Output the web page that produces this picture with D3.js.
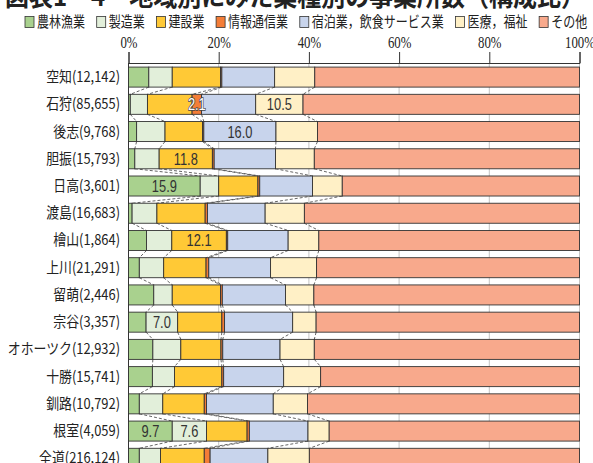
<!DOCTYPE html>
<html>
<head>
<meta charset="utf-8">
<script src="https://cdn.jsdelivr.net/npm/d3@7"></script>
<style>
  body { margin: 0; background: #fff; }
  svg { display: block; }
  text { font-family: "Noto Sans CJK JP", sans-serif; fill: #222; }
</style>
</head>
<body>
<svg id="chart1" width="593" height="463"></svg>
<script>
// regions and number of establishments
let regions = ["空知","石狩","後志","胆振","日高","渡島","檜山","上川","留萌","宗谷","オホーツク","十勝","釧路","根室","全道"];
let counts = ["12,142","85,655","9,768","15,793","3,601","16,683","1,864","21,291","2,446","3,357","12,932","15,741","10,792","4,059","216,124"];
let industries = ["農林漁業","製造業","建設業","情報通信業","宿泊業，飲食サービス業","医療，福祉","その他"];

// shares in %, one array per industry, same order as regions
let agri    = [4.5, 0.4, 1.8, 1.4, 15.9, 0.8, 4.0, 2.4, 5.6, 3.9, 5.4, 5.3, 2.4, 9.7, 2.4];
let manuf   = [5.2, 3.8, 6.3, 5.4, 4.1, 5.5, 5.6, 5.4, 4.1, 7.0, 6.2, 4.9, 5.2, 7.6, 4.7];
let constr  = [10.7, 9.9, 8.3, 11.8, 8.7, 10.7, 12.1, 9.4, 10.7, 9.8, 8.9, 10.5, 9.2, 9.0, 9.7];
let info    = [0.3, 2.1, 0.3, 0.4, 0.4, 0.5, 0.3, 0.6, 0.4, 0.6, 0.4, 0.4, 0.5, 0.5, 1.3];
let hotel   = [11.7, 12.0, 16.0, 13.6, 11.7, 12.8, 13.4, 13.7, 14.0, 15.1, 12.7, 13.3, 14.8, 13.0, 12.8];
let medical = [8.9, 10.5, 9.2, 8.6, 6.6, 8.7, 6.8, 10.2, 6.3, 5.2, 7.6, 8.2, 7.6, 4.7, 9.2];
let other   = [58.7, 61.3, 58.1, 58.8, 52.6, 61.0, 57.8, 58.3, 58.9, 58.4, 58.8, 57.4, 60.3, 55.5, 59.9];

let xTicks = [0, 20, 40, 60, 80, 100];
// cells that carry a value label [region, industry]
let labeled = [["石狩","情報通信業"],["石狩","医療，福祉"],["後志","宿泊業，飲食サービス業"],["胆振","建設業"],
               ["日高","農林漁業"],["檜山","建設業"],["宗谷","製造業"],["根室","農林漁業"],["根室","製造業"]];

let colors = ["#a9d18e","#e2efda","#ffc936","#f47d37","#c8d4ec","#fff0c6","#f8a98c"];
let title = "図表1－4　地域別にみた業種別の事業所数（構成比）";

let margin = { left: 128.5, right: 579.5, top: 63 };
let sx = 0.8; // glyphs in the picture are narrow

let svg = d3.select("#chart1");
let values = [agri, manuf, constr, info, hotel, medical, other];
let rows = regions.map((r, i) => {
  let row = { region: r, count: counts[i] };
  industries.forEach((k, j) => { row[k] = values[j][i]; });
  return row;
});

let xLinear = d3.scaleLinear().domain([0, 100]).range([margin.left, margin.right]);
let yBand = d3.scaleBand().domain(regions)
  .range([margin.top, margin.top + 409.4])
  .paddingInner(0.265).paddingOuter(0.15);
let color = d3.scaleOrdinal().domain(industries).range(colors);
let stack = d3.stack().keys(industries)(rows);

// title (cut at the top edge)
svg.append("text")
  .attr("x", 5).attr("y", 6)
  .attr("textLength", 580).attr("lengthAdjust", "spacingAndGlyphs")
  .style("font-size", "26px").style("font-weight", "bold")
  .text(title);

// legend
let lx = 25;
industries.forEach((k) => {
  let g = svg.append("g").attr("transform", "translate(" + lx + ",0)");
  g.append("rect").attr("x", 0).attr("y", 16.5).attr("width", 9).attr("height", 11)
    .attr("fill", color(k)).attr("stroke", "#333").attr("stroke-width", 0.8);
  let t = g.append("text")
    .attr("transform", "translate(12,26.5) scale(" + sx + ",1)")
    .style("font-size", "15px")
    .text(k);
  lx += 12 + t.node().getComputedTextLength() * sx + 11.7;
});

// grid
svg.append("g").selectAll("line")
  .data(xTicks.slice(1))
  .enter().append("line")
    .attr("x1", d => xLinear(d)).attr("x2", d => xLinear(d))
    .attr("y1", margin.top).attr("y2", 463)
    .attr("stroke", "#c4c4c4").attr("stroke-width", 1);

// top axis
let axisG = svg.append("g")
  .attr("transform", "translate(0," + margin.top + ")")
  .call(d3.axisTop(xLinear).tickValues(xTicks).tickFormat(d => d + "%").tickSize(11).tickPadding(4));
axisG.select(".domain").attr("stroke", "#333");
axisG.selectAll(".tick line").attr("stroke", "#333");
axisG.selectAll(".tick text")
  .attr("transform", "scale(" + sx + ",1)")
  .style("font-family", "'Liberation Serif', serif")
  .style("font-size", "16px")
  .attr("fill", "#333");

// left axis line
svg.append("line")
  .attr("x1", margin.left).attr("x2", margin.left)
  .attr("y1", margin.top).attr("y2", 463)
  .attr("stroke", "#333");

// dashed series lines between bars
let links = [];
for (let i = 0; i < regions.length - 1; i++) {
  for (let j = 0; j < industries.length - 1; j++) {
    links.push({ a: stack[j][i][1], b: stack[j][i + 1][1], r0: regions[i], r1: regions[i + 1] });
  }
}
svg.append("g").selectAll("line")
  .data(links)
  .enter().append("line")
    .attr("x1", d => xLinear(d.a)).attr("y1", d => yBand(d.r0) + yBand.bandwidth())
    .attr("x2", d => xLinear(d.b)).attr("y2", d => yBand(d.r1))
    .attr("stroke", "#555").attr("stroke-width", 0.9)
    .attr("stroke-dasharray", "3,2");

// bars
svg.append("g").selectAll("g")
  .data(stack)
  .enter().append("g")
    .attr("fill", d => color(d.key))
  .selectAll("rect")
  .data(d => d)
  .enter().append("rect")
    .attr("x", d => xLinear(d[0]))
    .attr("y", d => yBand(d.data.region))
    .attr("width", d => xLinear(d[1]) - xLinear(d[0]))
    .attr("height", yBand.bandwidth())
    .attr("stroke", "#333").attr("stroke-width", 0.9);

// value labels
let cells = labeled.map(([r, k]) => {
  let j = industries.indexOf(k);
  let d = stack[j][regions.indexOf(r)];
  return { r: r, k: k, v: d[1] - d[0], mid: (d[0] + d[1]) / 2 };
});
svg.append("g").selectAll("text")
  .data(cells)
  .enter().append("text")
    .attr("transform", d => "translate(" + xLinear(d.mid) + "," + (yBand(d.r) + yBand.bandwidth() / 2 + 6) + ") scale(0.78,1)")
    .attr("text-anchor", "middle")
    .style("font-family", "'Liberation Sans', Arial, sans-serif")
    .style("font-size", "16.5px")
    .style("fill", d => d.k == "情報通信業" ? "#fff" : "#333")
    .style("stroke", d => d.k == "情報通信業" ? "#444" : "none")
    .style("stroke-width", 1.6)
    .style("paint-order", "stroke")
    .text(d => d.v.toFixed(1));

// category labels
svg.append("g").selectAll("text")
  .data(rows)
  .enter().append("text")
    .attr("transform", d => "translate(120," + (yBand(d.region) + yBand.bandwidth() / 2 + 5) + ") scale(0.86,1)")
    .attr("text-anchor", "end")
    .style("font-size", "15px")
    .text(d => d.region + "(" + d.count + ")");
</script>
</body>
</html>
